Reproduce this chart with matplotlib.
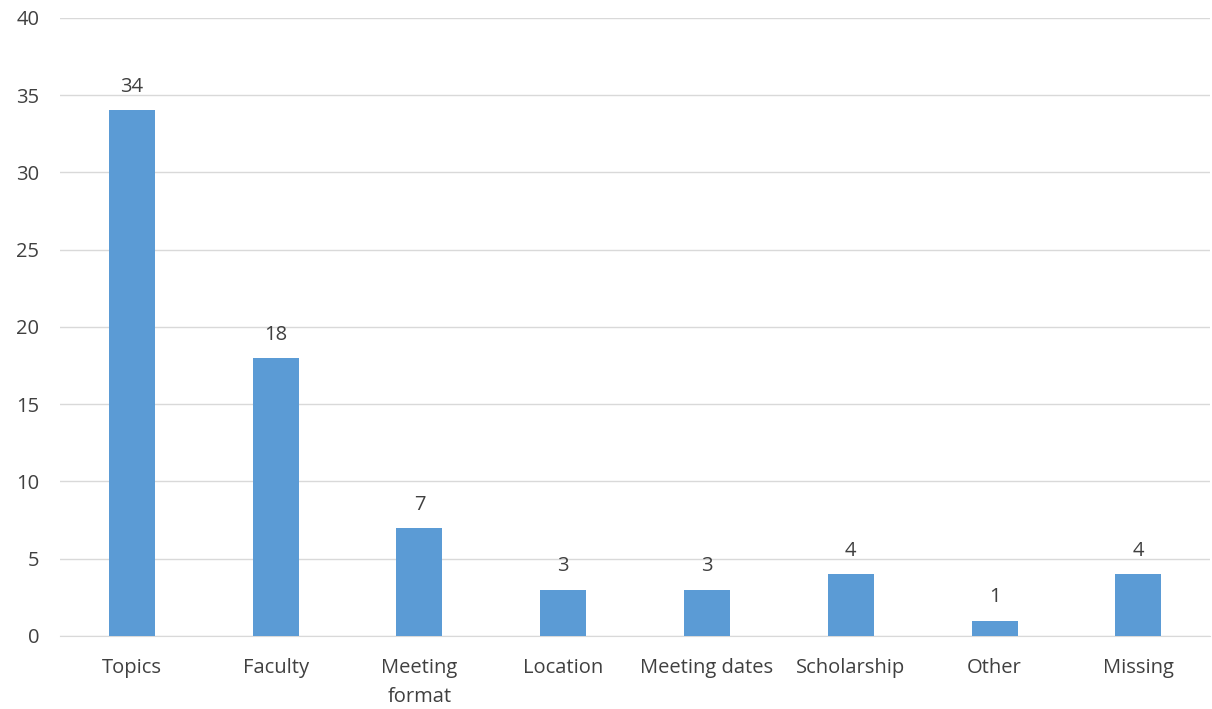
import matplotlib.pyplot as plt

# data
categories = ["Topics", "Faculty", "Meeting\nformat", "Location", "Meeting dates",
              "Scholarship", "Other", "Missing"]
counts = [34, 18, 7, 3, 3, 4, 1, 4]
yticks = [0, 5, 10, 15, 20, 25, 30, 35, 40]

plt.rcParams['font.family'] = ['Open Sans', 'DejaVu Sans']

fig = plt.figure(figsize=(12.12, 7.09), dpi=100)
ax = fig.add_axes([0.0495, 0.103, 0.949, 0.872])

bars = ax.bar(range(len(categories)), counts, width=0.32, color="#5B9BD5", zorder=3)
for b, v in zip(bars, counts):
    ax.text(b.get_x() + b.get_width() / 2, v + 0.85, str(v), ha="center", va="bottom",
            fontsize=14.5, color="#404040")

ax.set_xlim(-0.5, len(categories) - 0.5)
ax.set_ylim(0, 40)
ax.set_yticks(yticks)
ax.set_xticks(range(len(categories)))
ax.set_xticklabels(categories, fontsize=14.5, color="#404040", linespacing=1.6)
ax.tick_params(axis="y", labelsize=14.5, labelcolor="#404040", length=0, pad=15)
ax.tick_params(axis="x", length=0, pad=15.5)

ax.grid(axis="y", color="#D9D9D9", linewidth=1, zorder=0)
for s in ["top", "right", "left"]:
    ax.spines[s].set_visible(False)
ax.spines["bottom"].set_color("#D9D9D9")

fig.savefig("out.png", dpi=100)
